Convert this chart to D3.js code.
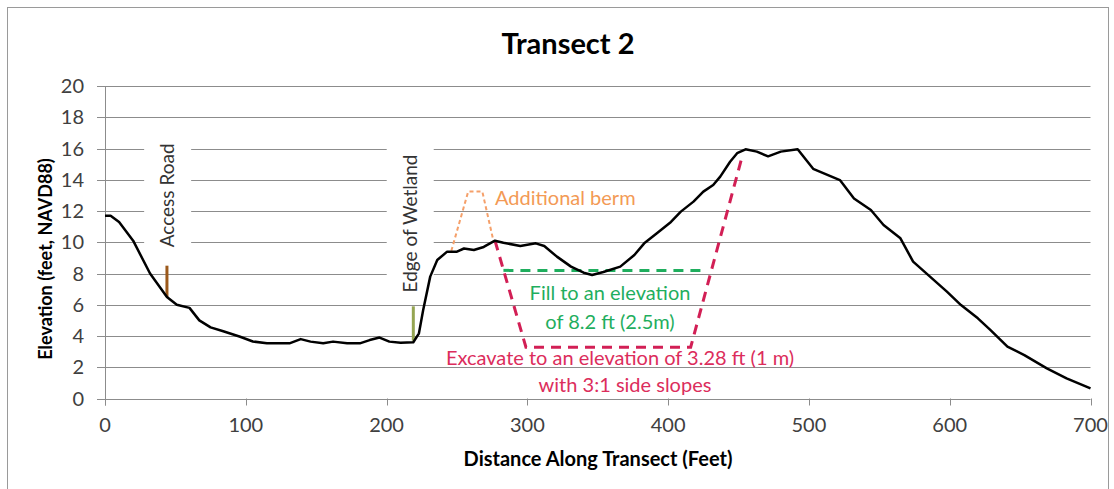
<!DOCTYPE html>
<html>
<head>
<meta charset="utf-8">
<script src="https://cdn.jsdelivr.net/npm/d3@7"></script>
<style>
  html, body { margin: 0; padding: 0; background: #fff; }
  svg { display: block; }
  text { font-family: Lato, "Open Sans", sans-serif; }
</style>
</head>
<body>
<svg id="chart" width="1114" height="489"></svg>
<script>
// ---- Data ----
const distance = [0,4,10,20,32,44,51,60,67,75,84,96,105,115,131,139,146,155,162,172,181,188,195,202,210,219,223,226,231,236,243,250,255,262,269,277,283,295,306,312,321,331,340,346,354,366,376,383,392,402,409,418,425,432,437,444,449,455,463,471,480,492,503,522,532,544,553,565,574,586,598,608,620,629,641,653,669,683,700];
const elevation = [11.7,11.7,11.3,10.1,8.0,6.5,6.0,5.8,5.0,4.55,4.3,3.95,3.65,3.53,3.53,3.8,3.64,3.53,3.64,3.53,3.53,3.74,3.9,3.64,3.57,3.6,4.17,5.66,7.8,8.86,9.4,9.4,9.6,9.5,9.7,10.1,9.97,9.76,9.93,9.76,9.08,8.44,8.05,7.9,8.1,8.44,9.18,9.93,10.57,11.3,11.96,12.6,13.24,13.66,14.2,15.15,15.7,15.95,15.8,15.5,15.8,15.95,14.7,13.98,12.8,12.06,11.1,10.25,8.76,7.8,6.84,5.98,5.13,4.38,3.32,2.78,1.93,1.29,0.65];

const xTicks = [0,100,200,300,400,500,600,700];
const yTicks = [0,2,4,6,8,10,12,14,16,18,20];

// Annotation geometry (data units)
const bermX = [246, 258, 268, 276];
const bermY = [9.45, 13.25, 13.25, 10.05];
const excavX = [277, 299, 416, 452];
const excavY = [10.1, 3.28, 3.28, 15.3];
const fillX = [283, 426];
const fillY = [8.2, 8.2];
const roadMarkX = [44, 44];
const roadMarkY = [6.5, 8.5];
const wetMarkX = [219, 219];
const wetMarkY = [3.7, 5.9];

const titleText = "Transect 2";
const xTitle = "Distance Along Transect (Feet)";
const yTitle = "Elevation (feet, NAVD88)";

// ---- Setup ----
const svg = d3.select("#chart");
const plot = { left: 105, right: 1090.5, top: 86, bottom: 398.5 };

const x = d3.scaleLinear().domain([0, 700]).range([plot.left, plot.right]);
const y = d3.scaleLinear().domain([0, 20]).range([plot.bottom, plot.top]);

// outer frame
svg.append("rect").attr("x", 7.5).attr("y", 7.5).attr("width", 1101).attr("height", 495)
  .attr("fill", "#fff").attr("stroke", "#9a9a9a").attr("stroke-width", 1);

// title
svg.append("text").attr("x", 568).attr("y", 54).attr("text-anchor", "middle")
  .attr("font-size", 29).attr("font-weight", "bold").attr("fill", "#000").text(titleText);

// gridlines (horizontal) + y ticks
svg.append("g").selectAll("line").data(yTicks).join("line")
  .attr("x1", plot.left - 8).attr("x2", plot.right)
  .attr("y1", d => Math.round(y(d)) + 0.5).attr("y2", d => Math.round(y(d)) + 0.5)
  .attr("stroke", "#8c8c8c").attr("stroke-width", 1);

// y axis line
svg.append("line").attr("x1", plot.left + 0.5).attr("x2", plot.left + 0.5)
  .attr("y1", plot.top).attr("y2", plot.bottom + 7)
  .attr("stroke", "#8c8c8c");

// x ticks
svg.append("g").selectAll("line").data(xTicks).join("line")
  .attr("x1", d => Math.round(x(d)) + 0.5).attr("x2", d => Math.round(x(d)) + 0.5)
  .attr("y1", plot.bottom).attr("y2", plot.bottom + 7)
  .attr("stroke", "#8c8c8c");

// y tick labels
svg.append("g").selectAll("text").data(yTicks).join("text")
  .attr("x", plot.left - 21).attr("y", d => y(d)).attr("dy", "0.36em")
  .attr("text-anchor", "end").attr("font-size", 20).attr("fill", "#404040")
  .text(d => d);

// x tick labels
svg.append("g").selectAll("text").data(xTicks).join("text")
  .attr("x", d => x(d)).attr("y", plot.bottom + 33)
  .attr("text-anchor", "middle").attr("font-size", 20).attr("fill", "#404040")
  .text(d => d);

// axis titles
svg.append("text").attr("x", 598).attr("y", 466).attr("text-anchor", "middle")
  .attr("font-size", 20).attr("font-weight", "bold").attr("fill", "#000").text(xTitle);
svg.append("text").attr("transform", "translate(52,259) rotate(-90)")
  .attr("text-anchor", "middle").attr("font-size", 18).attr("font-weight", "bold")
  .attr("fill", "#000").text(yTitle);

// vertical labels with white background
function vLabel(dx, dy, txt) {
  const g = svg.append("g");
  const bg = g.append("rect").attr("fill", "#fff");
  const t = g.append("text")
    .attr("transform", `translate(${x(dx)},${y(dy)}) rotate(-90)`)
    .attr("text-anchor", "middle").attr("dy", "0.35em")
    .attr("font-size", 19).attr("fill", "#333").text(txt);
  const bb = t.node().getBBox();
  const len = bb.width, hgt = bb.height;
  bg.attr("x", x(dx) - hgt / 2 - 12).attr("y", y(dy) - len / 2 - 6)
    .attr("width", hgt + 24).attr("height", len + 12);
}
vLabel(44.5, 13.0, "Access Road");
vLabel(216.8, 11.2, "Edge of Wetland");

const line = d3.line().x((d) => x(d[0])).y((d) => y(d[1]));

// markers
svg.append("path").datum(d3.zip(roadMarkX, roadMarkY)).attr("d", line)
  .attr("stroke", "#9c5a1c").attr("stroke-width", 3).attr("fill", "none");
svg.append("path").datum(d3.zip(wetMarkX, wetMarkY)).attr("d", line)
  .attr("stroke", "#95a552").attr("stroke-width", 3).attr("fill", "none");

// berm
svg.append("path").datum(d3.zip(bermX, bermY)).attr("d", line)
  .attr("stroke", "#f5a06a").attr("stroke-width", 2).attr("stroke-dasharray", "4,3")
  .attr("fill", "none");

// fill line
svg.append("path").datum(d3.zip(fillX, fillY)).attr("d", line)
  .attr("stroke", "#1fae5e").attr("stroke-width", 3).attr("stroke-dasharray", "10,7")
  .attr("fill", "none");

// excavation line
svg.append("path").datum(d3.zip(excavX, excavY)).attr("d", line)
  .attr("stroke", "#d21f55").attr("stroke-width", 3).attr("stroke-dasharray", "10,7")
  .attr("fill", "none");

// profile
svg.append("path").datum(d3.zip(distance, elevation)).attr("d", line)
  .attr("stroke", "#000").attr("stroke-width", 2.5).attr("fill", "none")
  .attr("stroke-linejoin", "round");

// annotation texts
svg.append("text").attr("x", x(277)).attr("y", y(12.83)).attr("dy", "0.35em")
  .attr("font-size", 20).attr("fill", "#f39a55").text("Additional berm");

svg.append("text").attr("x", 610).attr("y", y(6.75)).attr("dy", "0.35em")
  .attr("text-anchor", "middle").attr("font-size", 20).attr("fill", "#1fae5e")
  .text("Fill to an elevation");
svg.append("text").attr("x", 610).attr("y", y(4.9)).attr("dy", "0.35em")
  .attr("text-anchor", "middle").attr("font-size", 20).attr("fill", "#1fae5e")
  .text("of 8.2 ft (2.5m)");

svg.append("text").attr("x", 620).attr("y", y(2.6)).attr("dy", "0.35em")
  .attr("text-anchor", "middle").attr("font-size", 20).attr("fill", "#dc2d5c")
  .text("Excavate to an elevation of 3.28 ft (1 m)");
svg.append("text").attr("x", 625).attr("y", y(0.85)).attr("dy", "0.35em")
  .attr("text-anchor", "middle").attr("font-size", 20).attr("fill", "#dc2d5c")
  .text("with 3:1 side slopes");
</script>
</body>
</html>
